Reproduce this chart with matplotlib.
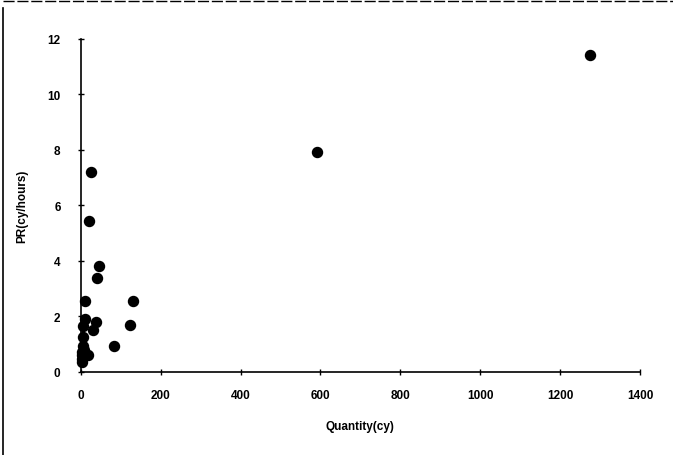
import matplotlib
matplotlib.use("Agg")
import matplotlib.pyplot as plt
from matplotlib.lines import Line2D

plt.rcParams['font.family'] = ['Liberation Sans', 'DejaVu Sans']
plt.rcParams['font.weight'] = 'bold'

# quantity (cy) vs production rate (cy/hours)
quantity = [1275, 591, 26, 21, 45, 41, 10, 130, 10, 123, 38, 30, 5, 6,
            82, 6, 8, 19, 3, 2, 4, 3]
rate = [11.43, 7.94, 7.2, 5.43, 3.8, 3.37, 2.56, 2.56, 1.9, 1.69, 1.8, 1.52,
        1.66, 1.24, 0.94, 0.94, 0.8, 0.6, 0.7, 0.46, 0.34, 0.6]
xticks = [0, 200, 400, 600, 800, 1000, 1200, 1400]
yticks = [0, 2, 4, 6, 8, 10, 12]

fig = plt.figure(figsize=(6.73, 4.56), dpi=100)
ax = fig.add_axes([0.12, 0.1827, 0.831, 0.7296])

ax.scatter(quantity, rate, s=52, color='black', zorder=3, clip_on=False)

ax.set_xlim(0, 1400)
ax.set_ylim(0, 12)
ax.set_xticks(xticks)
ax.set_yticks(yticks)
ax.spines['top'].set_visible(False)
ax.spines['right'].set_visible(False)
for s in ('left', 'bottom'):
    ax.spines[s].set_linewidth(1.2)
ax.tick_params(direction='inout', length=5, width=1, labelsize=8.5, pad=10)
ax.tick_params(axis='y', pad=12)

ax.set_xlabel('Quantity(cy)', fontsize=8.5, fontweight='bold', labelpad=14)
ax.set_ylabel('PR(cy/hours)', fontsize=8.5, fontweight='bold', labelpad=14)

# outer chart frame (top and left edges)
fig.add_artist(Line2D([0.004, 1.0], [0.996, 0.996], color='black', lw=1.0,
                      linestyle=(0, (8, 2))))
fig.add_artist(Line2D([0.004, 0.004], [0.0, 0.98], color='black', lw=1.2))

fig.savefig('out.png', dpi=100)
